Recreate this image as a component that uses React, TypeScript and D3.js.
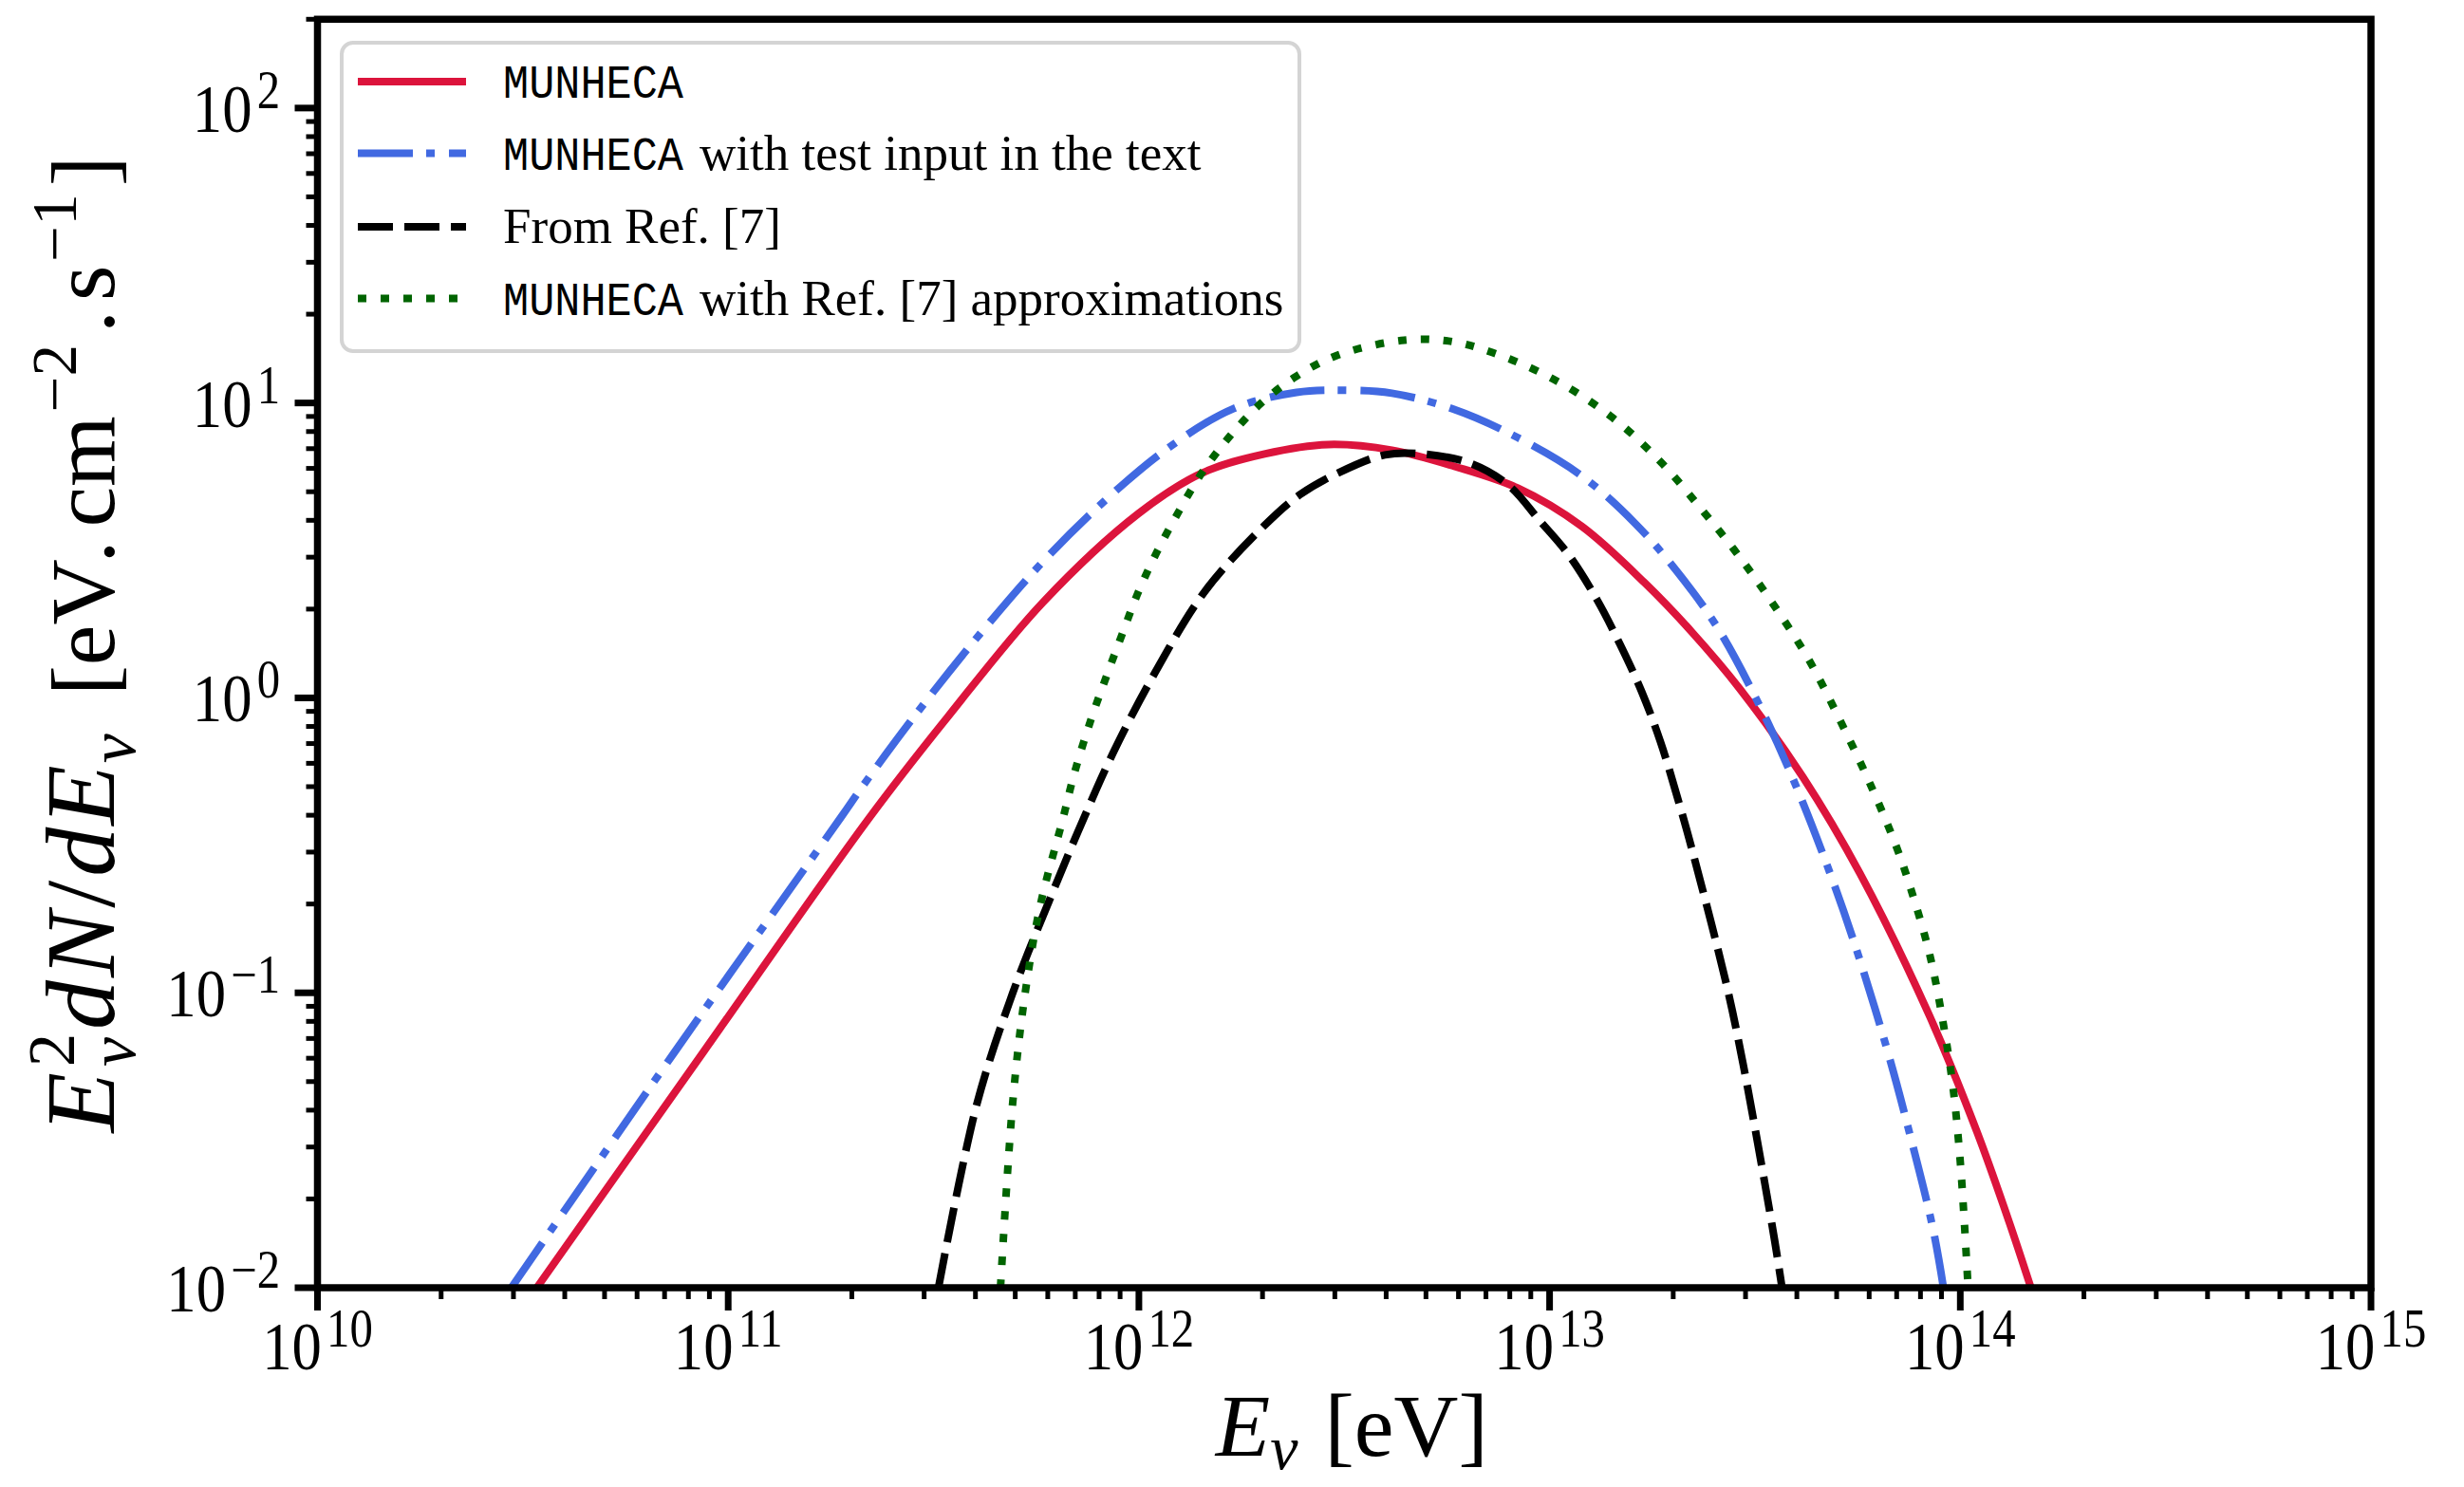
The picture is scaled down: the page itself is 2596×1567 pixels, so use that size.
import React from "react";
import * as d3 from "d3";

// ---- axis definitions ----
const xDomain: [number, number] = [1e10, 1e15];
const yDomain: [number, number] = [1e-2, 200];
const xTickExponents = [10, 11, 12, 13, 14, 15];
const yTickExponents = [-2, -1, 0, 1, 2];
const minorMultipliers = [2, 3, 4, 5, 6, 7, 8, 9];

// ---- series data (log10 E [eV], log10 E^2 dN/dE) ----
const munhecaLogE = [10.534, 10.94, 11.344, 11.536, 11.767, 11.998, 12.153, 12.306, 12.461, 12.616, 12.768, 12.923, 13.078, 13.231, 13.346, 13.462, 13.617, 13.756, 13.925, 14.04, 14.119, 14.172];
const munhecaLogFlux = [-2, -1.2, -0.406, -0.062, 0.325, 0.624, 0.762, 0.827, 0.859, 0.84, 0.785, 0.711, 0.582, 0.391, 0.224, 0.033, -0.269, -0.596, -1.078, -1.469, -1.777, -2];

const testInputLogE = [10.472, 10.87, 11.274, 11.327, 11.459, 11.612, 11.767, 11.922, 12.074, 12.229, 12.384, 12.5, 12.616, 12.768, 12.923, 13.078, 13.208, 13.309, 13.409, 13.518, 13.601, 13.693, 13.756, 13.825, 13.878, 13.934, 13.959];
const testInputLogFlux = [-2, -1.2, -0.406, -0.3, -0.052, 0.215, 0.463, 0.675, 0.85, 0.98, 1.036, 1.043, 1.033, 0.978, 0.882, 0.753, 0.592, 0.431, 0.238, -0.045, -0.302, -0.633, -0.891, -1.208, -1.484, -1.803, -2];

const ref7LogE = [11.512, 11.605, 11.693, 11.781, 11.859, 11.936, 12.037, 12.16, 12.306, 12.391, 12.484, 12.599, 12.692, 12.808, 12.9, 12.976, 13.046, 13.115, 13.171, 13.224, 13.27, 13.316, 13.346, 13.432, 13.471, 13.508, 13.548, 13.566];
const ref7LogFlux = [-2, -1.38, -1.0, -0.69, -0.43, -0.19, 0.08, 0.36, 0.585, 0.688, 0.762, 0.824, 0.827, 0.795, 0.721, 0.601, 0.486, 0.334, 0.183, 0.022, -0.149, -0.36, -0.51, -0.98, -1.24, -1.52, -1.84, -2];

const approxLogE = [11.663, 11.693, 11.723, 11.76, 11.815, 11.843, 11.883, 11.922, 11.959, 11.998, 12.044, 12.098, 12.153, 12.222, 12.299, 12.384, 12.484, 12.646, 12.754, 12.861, 13.009, 13.148, 13.27, 13.379, 13.448, 13.541, 13.633, 13.71, 13.779, 13.844, 13.878, 13.925, 13.957, 13.982, 13.999, 14.01, 14.019];
const approxLogFlux = [-2, -1.369, -1.002, -0.703, -0.41, -0.255, -0.075, 0.077, 0.215, 0.357, 0.495, 0.634, 0.762, 0.888, 1.001, 1.091, 1.162, 1.213, 1.21, 1.171, 1.081, 0.956, 0.801, 0.624, 0.505, 0.325, 0.125, -0.084, -0.287, -0.503, -0.641, -0.867, -1.092, -1.317, -1.556, -1.781, -2];

const legendMono = ["MUNHECA", "MUNHECA", "", "MUNHECA"];
const legendText = ["", "with test input in the text", "From Ref. [7]", "with Ref. [7] approximations"];

const SERIF = "'Liberation Serif', 'Times New Roman', Times, serif";
const MONO = "'Liberation Mono', 'DejaVu Sans Mono', monospace";

export default function App() {
  const W = 2596;
  const H = 1567;
  const L = 334.5, R = 2498, T = 20.3, B = 1357;

  const x = d3.scaleLog().domain(xDomain).range([L, R]);
  const y = d3.scaleLog().domain(yDomain).range([B, T]);

  const toPts = (le: number[], lf: number[]) =>
    le.map((e, i) => [Math.pow(10, e), Math.pow(10, lf[i])] as [number, number]);

  const line = d3
    .line<[number, number]>()
    .x((d) => x(d[0]))
    .y((d) => y(d[1]))
    .curve(d3.curveCatmullRom.alpha(0.5));

  const styles = [
    { color: "#dc143c", dash: undefined as string | undefined },
    { color: "#4169e1", dash: "58 14 9 15" },
    { color: "#000000", dash: "37 12" },
    { color: "#006400", dash: "9 15" },
  ];
  const seriesPts = [
    toPts(munhecaLogE, munhecaLogFlux),
    toPts(testInputLogE, testInputLogFlux),
    toPts(ref7LogE, ref7LogFlux),
    toPts(approxLogE, approxLogFlux),
  ];

  const xMinor: number[] = [];
  for (let e = 10; e < 15; e++) minorMultipliers.forEach((m) => xMinor.push(m * Math.pow(10, e)));
  const yMinor: number[] = [];
  for (let e = -2; e <= 2; e++)
    minorMultipliers.forEach((m) => {
      const v = m * Math.pow(10, e);
      if (v <= yDomain[1] * 1.0001) yMinor.push(v);
    });

  const fmtExp = (e: number) => (e < 0 ? "\u2212" + Math.abs(e) : String(e));

  const LW = 8;
  const rowY = [86, 161.5, 239, 314.5];

  return (
    <svg
      width={W}
      height={H}
      viewBox={`0 0 ${W} ${H}`}
      style={{ position: "absolute", left: 0, top: 0, background: "#fff" }}
    >
      <rect x={0} y={0} width={W} height={H} fill="#fff" />
      <defs>
        <clipPath id="plotClip">
          <rect x={L} y={T} width={R - L} height={B - T} />
        </clipPath>
      </defs>

      {/* curves */}
      <g clipPath="url(#plotClip)">
        {seriesPts.map((pts, i) => (
          <path
            key={i}
            d={line(pts) || ""}
            fill="none"
            stroke={styles[i].color}
            strokeWidth={LW}
            strokeDasharray={styles[i].dash}
            strokeLinecap="butt"
            strokeLinejoin="round"
          />
        ))}
      </g>

      {/* x ticks */}
      {xMinor.map((v, i) => (
        <line key={"xm" + i} x1={x(v)} x2={x(v)} y1={B} y2={B + 12} stroke="#000" strokeWidth={5} />
      ))}
      {xTickExponents.map((e) => (
        <line key={"xM" + e} x1={x(Math.pow(10, e))} x2={x(Math.pow(10, e))} y1={B} y2={B + 24} stroke="#000" strokeWidth={7} />
      ))}
      {/* y ticks */}
      {yMinor.map((v, i) => (
        <line key={"ym" + i} x1={L - 12} x2={L} y1={y(v)} y2={y(v)} stroke="#000" strokeWidth={5} />
      ))}
      {yTickExponents.map((e) => (
        <line key={"yM" + e} x1={L - 24} x2={L} y1={y(Math.pow(10, e))} y2={y(Math.pow(10, e))} stroke="#000" strokeWidth={7} />
      ))}

      {/* spines */}
      <rect x={L} y={T} width={R - L} height={B - T} fill="none" stroke="#000" strokeWidth={7.5} strokeLinejoin="miter" />

      {/* x tick labels */}
      {xTickExponents.map((e) => (
        <text
          key={"xl" + e}
          transform={`translate(${x(Math.pow(10, e))},1443) scale(0.87,1)`}
          textAnchor="middle"
          fontFamily={SERIF}
          fontSize={72}
          fill="#000"
        >
          10
          <tspan fontSize={56} dy={-24} dx={6}>
            {fmtExp(e)}
          </tspan>
        </text>
      ))}

      {/* y tick labels */}
      {yTickExponents.map((e) => (
        <text
          key={"yl" + e}
          transform={`translate(295,${y(Math.pow(10, e)) + 25}) scale(0.87,1)`}
          textAnchor="end"
          fontFamily={SERIF}
          fontSize={72}
          fill="#000"
        >
          10
          <tspan fontSize={56} dy={-25} dx={6}>
            {fmtExp(e)}
          </tspan>
        </text>
      ))}

      {/* x label */}
      <text
        transform={`translate(${(L + R) / 2 + 8},1534)`}
        textAnchor="middle"
        fontFamily={SERIF}
        fontSize={94}
        fill="#000"
      >
        <tspan fontStyle="italic">E</tspan>
        <tspan fontStyle="italic" fontSize={66} dy={14}>
          ν
        </tspan>
        <tspan dy={-14} dx={28}>
          [eV]
        </tspan>
      </text>

      {/* y label */}
      <text
        transform={`translate(120,679) rotate(-90)`}
        textAnchor="middle"
        fontFamily={SERIF}
        fontSize={96}
        fill="#000"
      >
        <tspan fontStyle="italic" fontSize={104}>E</tspan>
        <tspan fontSize={70} dy={-42} dx={6}>
          2
        </tspan>
        <tspan fontSize={70} fontStyle="italic" dx={-35} dy={64}>
          ν
        </tspan>
        <tspan fontStyle="italic" fontSize={104} dy={-22} dx={8}>
          d
        </tspan>
        <tspan fontStyle="italic" fontSize={104} dx={3}>
          N
        </tspan>
        <tspan fontSize={104} dx={4}>/</tspan>
        <tspan fontStyle="italic" fontSize={104} dx={4}>
          d
        </tspan>
        <tspan fontStyle="italic" fontSize={104} dx={2}>
          E
        </tspan>
        <tspan fontSize={70} fontStyle="italic" dy={22} dx={2}>
          ν
        </tspan>
        <tspan dy={-22} dx={40}>
          [eV
        </tspan>
        <tspan dx={8}>.</tspan>
        <tspan dx={14}>cm</tspan>
        <tspan fontSize={67} dy={-40} dx={4}>
          −2
        </tspan>
        <tspan dy={40} dx={12}>
          .
        </tspan>
        <tspan dx={10}>s</tspan>
        <tspan fontSize={67} dy={-40} dx={4}>
          −1
        </tspan>
        <tspan dy={40} dx={8}>
          ]
        </tspan>
      </text>

      {/* legend */}
      <rect x={360} y={45} width={1009} height={325} rx={12} ry={12} fill="#fff" fillOpacity={0.85} stroke="#d4d4d4" strokeWidth={4} />
      {rowY.map((ry, i) => (
        <g key={"lg" + i}>
          <line
            x1={377}
            x2={491}
            y1={ry}
            y2={ry}
            stroke={styles[i].color}
            strokeWidth={LW}
            strokeDasharray={styles[i].dash}
            strokeLinecap="butt"
          />
          {legendMono[i] && (
            <text
              x={530}
              y={ry + 17}
              fontFamily={MONO}
              fontSize={50}
              textLength={190}
              lengthAdjust="spacingAndGlyphs"
              fill="#000"
            >
              {legendMono[i]}
            </text>
          )}
          {legendText[i] && (
            <text
              x={legendMono[i] ? 737 : 530}
              y={ry + 17}
              fontFamily={SERIF}
              fontSize={53}
              fill="#000"
            >
              {legendText[i]}
            </text>
          )}
        </g>
      ))}
    </svg>
  );
}
